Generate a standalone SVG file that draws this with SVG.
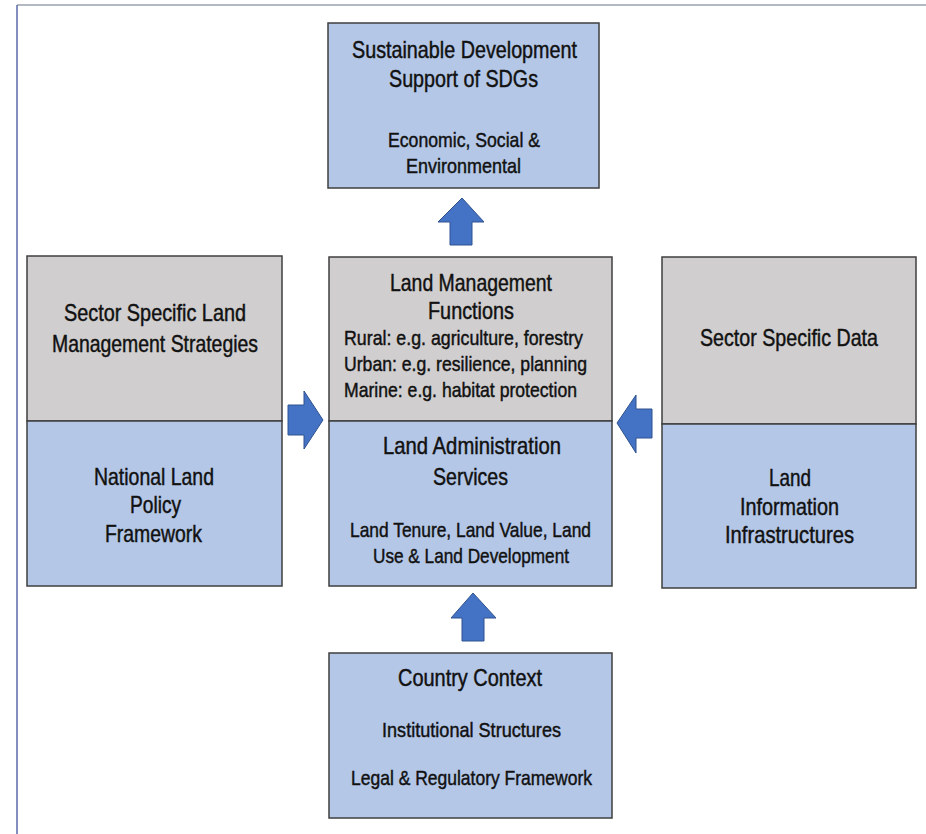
<svg xmlns="http://www.w3.org/2000/svg" width="926" height="834" viewBox="0 0 926 834">
<style>
.blue{fill:#b4c7e7;stroke:#3f3f3f;stroke-width:1.5}
.gray{fill:#d0cece;stroke:#3f3f3f;stroke-width:1.5}
.arrow{fill:#4472c4;stroke:#2f528f;stroke-width:1}
text{font-family:"Liberation Sans",Arial,sans-serif;fill:#111;stroke:#111;stroke-width:0.45}
.t{font-size:24px}
.s{font-size:21px}
</style>
<rect width="926" height="834" fill="#ffffff"/>
<line x1="17" y1="5" x2="926" y2="5" stroke="#9aa0ac" stroke-width="1.5"/>
<line x1="17" y1="5" x2="17" y2="834" stroke="#5a6aa8" stroke-width="1.5"/>

<g id="connectors">
<polygon class="arrow" points="450,245 472,245 472,222 484,222 462,198 438,222 450,222"/>
<polygon class="arrow" points="462,641 484,641 484,618 496,618 473,593 451,618 462,618"/>
<polygon class="arrow" points="288,405 304,405 304,391 323,420 304,449 304,435 288,435"/>
<polygon class="arrow" points="652,409 636,409 636,395 617,423 636,453 636,438 652,438"/>
</g>

<g id="sustainable-development">
<rect class="blue" x="328" y="23" width="271" height="165"/>
<text class="t" x="352" y="58" textLength="225" lengthAdjust="spacingAndGlyphs">Sustainable Development</text>
<text class="t" x="389" y="87" textLength="149" lengthAdjust="spacingAndGlyphs">Support of SDGs</text>
<text class="s" x="388" y="147" textLength="152" lengthAdjust="spacingAndGlyphs">Economic, Social &amp;</text>
<text class="s" x="406" y="173" textLength="115" lengthAdjust="spacingAndGlyphs">Environmental</text>
</g>

<g id="sector-strategies">
<rect class="gray" x="27" y="256" width="255" height="165"/>
<text class="t" x="64" y="321" textLength="182" lengthAdjust="spacingAndGlyphs">Sector Specific Land</text>
<text class="t" x="52" y="352" textLength="206" lengthAdjust="spacingAndGlyphs">Management Strategies</text>
</g>
<g id="national-policy">
<rect class="blue" x="27" y="421" width="255" height="165"/>
<text class="t" x="94" y="485" textLength="120" lengthAdjust="spacingAndGlyphs">National Land</text>
<text class="t" x="130" y="513" textLength="51" lengthAdjust="spacingAndGlyphs">Policy</text>
<text class="t" x="105" y="542" textLength="97" lengthAdjust="spacingAndGlyphs">Framework</text>
</g>

<g id="land-management">
<rect class="gray" x="329" y="257" width="283" height="164"/>
<text class="t" x="390" y="291" textLength="162" lengthAdjust="spacingAndGlyphs">Land Management</text>
<text class="t" x="428" y="319" textLength="86" lengthAdjust="spacingAndGlyphs">Functions</text>
<text class="s" x="344" y="345" textLength="239" lengthAdjust="spacingAndGlyphs">Rural: e.g. agriculture, forestry</text>
<text class="s" x="344" y="371" textLength="243" lengthAdjust="spacingAndGlyphs">Urban: e.g. resilience, planning</text>
<text class="s" x="344" y="397" textLength="233" lengthAdjust="spacingAndGlyphs">Marine: e.g. habitat protection</text>
</g>
<g id="land-administration">
<rect class="blue" x="329" y="421" width="283" height="165"/>
<text class="t" x="383" y="454" textLength="178" lengthAdjust="spacingAndGlyphs">Land Administration</text>
<text class="t" x="433" y="485" textLength="75" lengthAdjust="spacingAndGlyphs">Services</text>
<text class="s" x="350" y="537" textLength="241" lengthAdjust="spacingAndGlyphs">Land Tenure, Land Value, Land</text>
<text class="s" x="373" y="563" textLength="196" lengthAdjust="spacingAndGlyphs">Use &amp; Land Development</text>
</g>

<g id="sector-data">
<rect class="gray" x="662" y="257" width="254" height="167"/>
<text class="t" x="700" y="346" textLength="178" lengthAdjust="spacingAndGlyphs">Sector Specific Data</text>
</g>
<g id="land-information">
<rect class="blue" x="662" y="424" width="254" height="164"/>
<text class="t" x="769" y="486" textLength="42" lengthAdjust="spacingAndGlyphs">Land</text>
<text class="t" x="740" y="515" textLength="99" lengthAdjust="spacingAndGlyphs">Information</text>
<text class="t" x="725" y="543" textLength="129" lengthAdjust="spacingAndGlyphs">Infrastructures</text>
</g>

<g id="country-context">
<rect class="blue" x="329" y="653" width="283" height="165"/>
<text class="t" x="398" y="686" textLength="144" lengthAdjust="spacingAndGlyphs">Country Context</text>
<text class="s" x="382" y="737" textLength="179" lengthAdjust="spacingAndGlyphs">Institutional Structures</text>
<text class="s" x="351" y="785" textLength="241" lengthAdjust="spacingAndGlyphs">Legal &amp; Regulatory Framework</text>
</g>
</svg>
